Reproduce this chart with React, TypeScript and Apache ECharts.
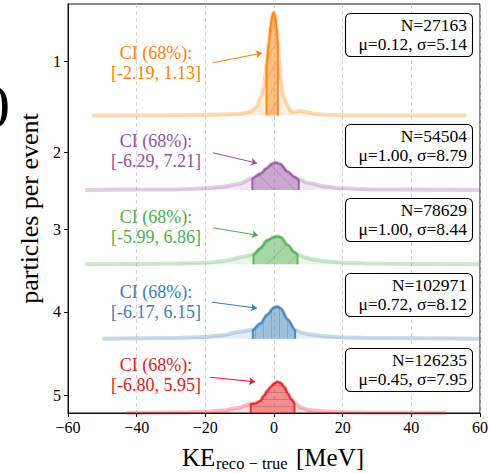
import React, { useEffect, useRef } from 'react';
import * as echarts from 'echarts';

// ---------- data ----------
const rowLabels = ['1', '2', '3', '4', '5'];
const rowColors = ['#ff7f00', '#984ea3', '#4daf4a', '#377eb8', '#e41a1c'];
const ciLow = [-2.19, -6.29, -5.99, -6.17, -6.8];
const ciHigh = [1.13, 7.21, 6.86, 6.15, 5.95];
const counts = [27163, 54504, 78629, 102971, 126235];
const means = [0.12, 1.0, 1.0, 0.72, 0.45];
const sigmas = [5.14, 8.79, 8.44, 8.12, 7.95];

// KDE density: [KE_reco - KE_true (MeV), density]
const density1: [number, number][] = [
  [-53, 0], [-30, 0.001], [-20, 0.002], [-15, 0.003], [-10, 0.005], [-7, 0.01], [-5, 0.026],
  [-4, 0.05], [-3, 0.082], [-2.5, 0.12], [-2.19, 0.15], [-1.5, 0.215], [-1, 0.262],
  [-0.5, 0.292], [-0.1, 0.301], [0.3, 0.292], [0.7, 0.263], [1.13, 0.215], [1.5, 0.16],
  [2, 0.105], [2.5, 0.07], [3, 0.05], [4, 0.028], [5, 0.013], [6, 0.01], [7.5, 0.014],
  [9, 0.011], [12, 0.005], [15, 0.002], [20, 0.0012], [30, 0.0006], [56, 0],
];
const density2: [number, number][] = [
  [-55, 0], [-30, 0.0015], [-20, 0.0045], [-15, 0.009], [-10, 0.018], [-6.29, 0.034],
  [-4, 0.047], [-2, 0.064], [-0.7, 0.076], [0.5, 0.08], [1.8, 0.076], [4, 0.053],
  [6, 0.038], [7.21, 0.031], [10, 0.02], [15, 0.01], [20, 0.0045], [30, 0.0015],
  [45, 0.0005], [60, 0],
];
const density3: [number, number][] = [
  [-55, 0], [-30, 0.0015], [-20, 0.0045], [-15, 0.009], [-12, 0.015], [-9, 0.022],
  [-5.99, 0.029], [-4, 0.047], [-2, 0.07], [0, 0.08], [1, 0.082], [2, 0.079], [4, 0.056],
  [6, 0.035], [6.86, 0.029], [9, 0.02], [12, 0.013], [15, 0.009], [20, 0.0045],
  [30, 0.0015], [60, 0],
];
const density4: [number, number][] = [
  [-50, 0], [-30, 0.0015], [-20, 0.005], [-15, 0.01], [-10, 0.02], [-6.17, 0.026],
  [-4, 0.044], [-2, 0.07], [0, 0.091], [1, 0.094], [2, 0.088], [4, 0.056], [6.15, 0.026],
  [8, 0.018], [10, 0.013], [15, 0.007], [20, 0.0035], [30, 0.0015], [60, 0],
];
const density5: [number, number][] = [
  [-43, 0], [-30, 0.0012], [-20, 0.0035], [-15, 0.0073], [-10, 0.015], [-8, 0.023],
  [-7, 0.028], [-6.8, 0.026], [-5.5, 0.028], [-4, 0.035], [-3, 0.05], [-2, 0.064],
  [-1, 0.076], [0, 0.086], [1, 0.091], [2, 0.088], [3, 0.076], [4, 0.058], [5, 0.041],
  [5.95, 0.029], [8, 0.015], [10, 0.009], [15, 0.0044], [20, 0.0023], [30, 0.0009], [50, 0],
];
const densities = [density1, density2, density3, density4, density5];

// y tick positions (ridge units, 0 = top of the axes)
const yTickPositions = [0.77, 2.0, 3.03, 4.14, 5.26];
// arrow annotations in data coordinates [x, y]
const arrowFrom: [number, number][] = [[-17.8, 0.79], [-17.8, 2.0], [-17.8, 3.01], [-18.1, 4.01], [-18.6, 5.02]];
const arrowTo: [number, number][] = [[-3.5, 0.66], [-4.95, 2.14], [-4.66, 3.11], [-4.95, 4.09], [-5.5, 5.08]];

const RIDGE_SCALE = 4.6;

// ---------- helpers ----------
const SERIF = '"Liberation Serif", "DejaVu Serif", serif';

function rgba(hex: string, a: number) {
  const n = parseInt(hex.slice(1), 16);
  return `rgba(${(n >> 16) & 255},${(n >> 8) & 255},${n & 255},${a})`;
}
function shadeA(hex: string, f: number, a: number) {
  const n = parseInt(hex.slice(1), 16);
  const r = Math.round(((n >> 16) & 255) * f);
  const g = Math.round(((n >> 8) & 255) * f);
  const b = Math.round((n & 255) * f);
  return `rgba(${r},${g},${b},${a})`;
}
function densityAt(pts: [number, number][], x: number) {
  for (let i = 0; i < pts.length - 1; i++) {
    const [x0, y0] = pts[i];
    const [x1, y1] = pts[i + 1];
    if (x >= x0 && x <= x1) return y0 + ((y1 - y0) * (x - x0)) / (x1 - x0 || 1);
  }
  return 0;
}

const decals = [
  { symbol: 'rect', symbolSize: 1, dashArrayX: [1, 0], dashArrayY: [1, 9], rotation: -Math.PI / 3 },
  { symbol: 'rect', symbolSize: 1, dashArrayX: [1, 0], dashArrayY: [1, 14], rotation: Math.PI / 4 },
  { symbol: 'rect', symbolSize: 1, dashArrayX: [1, 0], dashArrayY: [1, 14], rotation: -Math.PI / 4 },
  { symbol: 'rect', symbolSize: 1, dashArrayX: [1, 0], dashArrayY: [1, 7], rotation: Math.PI / 2 },
  { symbol: 'rect', symbolSize: 1, dashArrayX: [1, 0], dashArrayY: [1, 6], rotation: 0 },
];

function buildOption(): any {
  const series: any[] = [];
  densities.forEach((pts, i) => {
    const base = i + 1.5;
    const c = rowColors[i];
    series.push({
      type: 'line',
      data: pts.map(([x, d]) => [x, base - RIDGE_SCALE * d]),
      smooth: 0.3,
      smoothMonotone: 'x',
      symbol: 'none',
      silent: true,
      lineStyle: { color: rgba(c, 0.28), width: 4 },
      areaStyle: { color: rgba(c, 0.18), origin: base },
      z: 2,
    });
    const lo = ciLow[i];
    const hi = ciHigh[i];
    const inner = pts.filter(([x]) => x > lo && x < hi);
    const dark: number[][] = [
      [lo, base],
      [lo, base - RIDGE_SCALE * densityAt(pts, lo)],
      ...inner.map(([x, d]) => [x, base - RIDGE_SCALE * d]),
      [hi, base - RIDGE_SCALE * densityAt(pts, hi)],
      [hi, base],
    ];
    series.push({
      type: 'line',
      data: dark,
      smooth: 0.3,
      smoothMonotone: 'x',
      symbol: 'none',
      silent: true,
      lineStyle: { color: c, width: 2, opacity: 0.85 },
      itemStyle: { color: c, decal: { ...decals[i], color: shadeA(c, 0.75, 0.35) } },
      areaStyle: { color: rgba(c, 0.6), origin: base },
      z: 3,
    });
  });
  series.push({
    type: 'lines',
    coordinateSystem: 'cartesian2d',
    silent: true,
    symbol: ['none', 'arrow'],
    symbolSize: 6,
    z: 5,
    data: arrowFrom.map((f, i) => ({
      coords: [f, arrowTo[i]],
      lineStyle: { color: rowColors[i], width: 1, opacity: 1 },
    })),
  });

  const boxTops = [13, 124, 198, 273, 348];
  const ciCenters = [63, 151, 226.5, 302, 375];
  const graphics: any[] = [];
  rowColors.forEach((c, i) => {
    graphics.push({
      type: 'text',
      x: 156,
      y: ciCenters[i],
      z: 50,
      style: {
        text: `CI (68%):\n[${ciLow[i].toFixed(2)}, ${ciHigh[i].toFixed(2)}]`,
        fill: c,
        font: `18px ${SERIF}`,
        align: 'center',
        verticalAlign: 'middle',
        lineHeight: 20,
      },
    });
    graphics.push({
      type: 'group',
      z: 50,
      children: [
        {
          type: 'rect',
          shape: { x: 345.5, y: boxTops[i] + 0.5, width: 127, height: 43, r: 5 },
          style: { fill: '#fff', stroke: '#000', lineWidth: 1.1 },
          z: 50,
        },
        {
          type: 'text',
          x: 467,
          y: boxTops[i] + 21.5,
          z: 51,
          style: {
            text: `N=${counts[i]}\nμ=${means[i].toFixed(2)}, σ=${sigmas[i].toFixed(2)}`,
            fill: '#000',
            font: `17.5px ${SERIF}`,
            align: 'right',
            verticalAlign: 'middle',
            lineHeight: 18.5,
          },
        },
      ],
    });
  });
  // x-axis title with subscript
  graphics.push(
    { type: 'text', x: 182, y: 457, z: 50, style: { text: 'KE', fill: '#000', font: `25px ${SERIF}`, align: 'left', verticalAlign: 'middle' } },
    { type: 'text', x: 216, y: 463, z: 50, style: { text: 'reco − true', fill: '#000', font: `16.5px ${SERIF}`, align: 'left', verticalAlign: 'middle' } },
    { type: 'text', x: 296, y: 457, z: 50, style: { text: '[MeV]', fill: '#000', font: `25px ${SERIF}`, align: 'left', verticalAlign: 'middle' } },
  );
  // clipped glyph from a neighbouring panel at the far left
  graphics.push({
    type: 'text',
    x: 10,
    y: 106,
    z: 50,
    style: { text: '0', fill: '#000', font: `62px ${SERIF}`, align: 'right', verticalAlign: 'middle' },
  });

  return {
    animation: false,
    grid: {
      left: 68, right: 9, top: 4, bottom: 60,
      outerBoundsMode: 'none', containLabel: false,
      show: true, borderColor: '#111', borderWidth: 1, backgroundColor: 'transparent',
    },
    xAxis: {
      type: 'value',
      min: -60,
      max: 60,
      interval: 20,
      axisLine: { show: true, onZero: false, lineStyle: { color: '#111', width: 1 } },
      axisTick: { show: true, inside: false, length: 4, lineStyle: { color: '#111', width: 1 } },
      axisLabel: {
        color: '#000',
        fontFamily: SERIF,
        fontSize: 16,
        margin: 6,
        formatter: (v: number) => (v < 0 ? '\u2212' + Math.abs(v) : String(v)),
      },
      splitLine: { show: true, lineStyle: { color: '#c8c8c8', type: [4, 3], width: 0.8 } },
    },
    yAxis: {
      type: 'value',
      inverse: true,
      min: 0,
      max: 5.5,
      name: 'particles per event',
      nameLocation: 'middle',
      nameGap: 23,
      nameRotate: 90,
      nameTextStyle: { fontFamily: SERIF, fontSize: 26, color: '#000' },
      axisLine: { show: true, onZero: false, lineStyle: { color: '#111', width: 1 } },
      axisTick: { show: true, length: 4, customValues: yTickPositions, lineStyle: { color: '#111' } },
      axisLabel: {
        color: '#000',
        fontFamily: SERIF,
        fontSize: 16,
        margin: 7,
        customValues: yTickPositions,
        formatter: (v: number) => {
          let best = 0;
          yTickPositions.forEach((p, k) => {
            if (Math.abs(p - v) < Math.abs(yTickPositions[best] - v)) best = k;
          });
          return rowLabels[best];
        },
      },
      splitLine: { show: false },
    },
    series,
    graphic: graphics,
  };
}

export default function App() {
  const ref = useRef<HTMLDivElement>(null);
  useEffect(() => {
    if (!ref.current) return;
    const chart = echarts.init(ref.current, undefined, { renderer: 'svg' });
    chart.setOption(buildOption());
    return () => chart.dispose();
  }, []);
  return <div ref={ref} style={{ position: 'fixed', left: 0, top: 0, width: 489, height: 473, background: '#fff' }} />;
}
